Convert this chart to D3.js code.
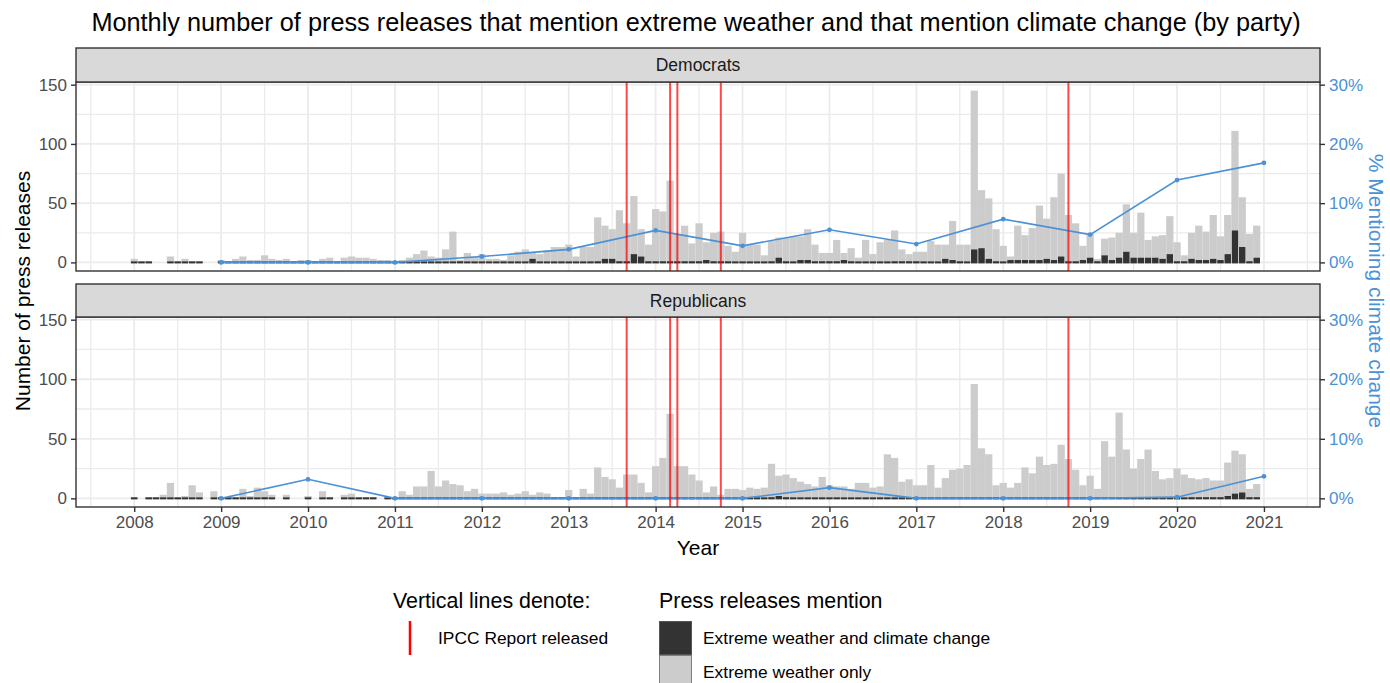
<!DOCTYPE html>
<html>
<head>
<meta charset="utf-8">
<script src="https://cdn.jsdelivr.net/npm/d3@7"></script>
<style>
  body { margin: 0; background: #fff; }
  svg { display: block; font-family: "Liberation Sans", Arial, Helvetica, sans-serif; }
</style>
</head>
<body>
<svg id="chart" width="1390" height="683"></svg>
<script>
// ---- DATA (monthly, starting Jan 2008; null = no releases that month) ----
var firstYear = 2008;

// Democrats: press releases mentioning extreme weather AND climate change
var demClimate = [
  0,0,0,null,null,0,0,0,0,0,null,null,
  0,0,0,0,0,0,0,0,0,0,0,0,
  0,0,0,0,0,0,0,0,0,0,0,0,
  0,0,0,0,0,0,0,0,0,1,0,0,
  0,0,0,0,0,0,0,3,0,0,0,0,
  0,0,0,0,1,3,3,1,1,7,5,1,
  1,1,1,1,1,1,1,2,1,1,1,0,
  0,0,0,0,1,4,1,0,2,2,1,1,
  1,1,2,1,0,0,0,0,0,1,1,1,
  1,0,0,0,3,2,1,0,11,12,3,1,
  0,2,2,2,2,2,3,2,5,1,1,2,
  4,1,6,2,4,9,4,4,4,4,3,7,
  1,1,3,2,2,3,2,7,27,13,1,4
];
// Democrats: extreme weather only
var demWeatherOnly = [
  3,1,1,null,null,5,1,3,1,1,null,null,
  2,1,3,5,2,2,6,3,2,3,1,2,
  2,1,3,4,1,4,5,4,4,3,2,2,
  1,2,4,7,10,5,4,11,26,1,8,5,
  7,3,3,2,6,9,11,5,7,10,13,13,
  15,5,13,13,37,28,25,43,32,49,23,14,
  44,42,68,23,30,15,32,15,24,25,13,9,
  25,15,15,6,17,17,20,22,20,26,14,7,
  7,18,6,11,4,19,7,17,19,26,10,6,
  8,9,18,15,12,33,14,15,134,49,51,27,
  14,3,29,21,27,46,34,53,70,39,32,12,
  20,2,14,19,21,40,21,38,15,18,20,32,
  16,5,22,29,24,37,20,33,84,42,23,27
];

// Republicans
var repClimate = [
  0,null,0,0,0,0,0,0,0,0,null,0,
  0,0,0,0,0,0,1,0,null,0,null,null,
  0,null,0,0,null,0,0,0,0,0,null,0,
  0,0,0,0,0,0,0,0,0,0,0,0,
  0,0,0,0,0,0,0,0,0,0,0,0,
  0,0,0,0,0,0,0,0,0,0,0,0,
  0,0,0,0,0,0,0,0,0,0,0,0,
  0,0,0,0,1,2,1,0,0,0,0,0,
  0,0,0,0,0,0,0,0,0,0,0,0,
  0,0,0,0,0,0,0,0,0,0,0,0,
  0,0,0,0,0,0,0,0,0,0,0,0,
  0,0,0,0,0,0,0,0,0,0,0,0,
  1,0,1,1,1,1,1,2,4,5,1,1
];
var repWeatherOnly = [
  1,null,1,1,3,13,1,2,11,5,null,6,
  1,1,1,8,2,9,5,3,null,3,null,null,
  2,null,6,1,null,3,4,1,1,1,null,1,
  1,6,3,10,10,23,10,15,12,11,6,8,
  4,4,4,5,3,4,6,3,5,4,1,1,
  7,1,8,4,26,18,16,9,20,20,13,5,
  27,34,71,27,27,20,15,5,10,3,8,8,
  7,9,8,9,28,17,19,17,14,12,10,18,
  11,10,10,8,13,13,9,10,37,34,14,16,
  11,11,28,9,17,24,25,28,96,42,37,11,
  13,9,13,26,21,35,28,29,45,33,24,11,
  19,8,48,35,72,41,25,33,41,23,16,17,
  24,20,16,15,16,14,14,28,36,32,7,11
];

// yearly share (%) of extreme weather releases that mention climate change
var pctYears = [2009,2010,2011,2012,2013,2014,2015,2016,2017,2018,2019,2020,2021];
var demPct = [0,0,0,1.0,2.2,5.4,2.8,5.5,3.1,7.3,4.7,13.9,16.8];
var repPct = [0,3.2,0,0,0,0,0,1.8,0,0,0,0.2,3.7];

// IPCC report release months (decimal year)
var ipccDates = [2013 + 8/12, 2014 + 2/12, 2014 + 3/12, 2014 + 9/12, 2018 + 9/12];

var yearTicks = d3.range(2008, 2022);
var countTicks = [0, 50, 100, 150];
var pctTicks = [0, 10, 20, 30];

// ---- LAYOUT ----
var svg = d3.select("#chart");
var panelLeft = 76, panelRight = 1320;
var darkFill = "#333333", lightFill = "#cccccc", blue = "#4b91d6", ipccRed = "red";
var gridCol = "#ebebeb";
var tickSize = "17px", titleSize = "21px";

var panels = [
  {name: "Democrats", climate: demClimate, only: demWeatherOnly, pct: demPct, stripTop: 48, top: 82, bottom: 271},
  {name: "Republicans", climate: repClimate, only: repWeatherOnly, pct: repPct, stripTop: 284, top: 317, bottom: 507}
];

var x = d3.scaleLinear().domain([2007.33, 2021.645]).range([panelLeft, panelRight]);
var monthW = x(firstYear + 1/12) - x(firstYear);

svg.append("text")
  .attr("x", 696).attr("y", 22)
  .attr("text-anchor", "middle").attr("dominant-baseline", "central")
  .style("font-size", "25.3px").style("fill", "#000")
  .text("Monthly number of press releases that mention extreme weather and that mention climate change (by party)");

panels.forEach(function(p, pi) {
  var y = d3.scaleLinear().domain([-7.25, 152.25]).range([p.bottom, p.top]);
  var yPct = d3.scaleLinear().domain([-7.25 / 5, 152.25 / 5]).range([p.bottom, p.top]);
  var g = svg.append("g");

  g.append("rect")
    .attr("x", panelLeft).attr("y", p.top)
    .attr("width", panelRight - panelLeft).attr("height", p.bottom - p.top)
    .attr("fill", "#fff");

  // minor grid
  var minorX = yearTicks.map(function(d) { return d - 0.5; }).concat([2021.5]);
  g.selectAll(".vminor").data(minorX).enter().append("line")
    .attr("x1", function(d) { return x(d); }).attr("x2", function(d) { return x(d); })
    .attr("y1", p.top).attr("y2", p.bottom)
    .attr("stroke", gridCol).attr("stroke-width", 1.3);
  g.selectAll(".hminor").data([25, 75, 125]).enter().append("line")
    .attr("x1", panelLeft).attr("x2", panelRight)
    .attr("y1", function(d) { return y(d); }).attr("y2", function(d) { return y(d); })
    .attr("stroke", gridCol).attr("stroke-width", 1.3);
  // major grid
  g.selectAll(".vmajor").data(yearTicks).enter().append("line")
    .attr("x1", function(d) { return x(d); }).attr("x2", function(d) { return x(d); })
    .attr("y1", p.top).attr("y2", p.bottom)
    .attr("stroke", gridCol).attr("stroke-width", 1.8);
  g.selectAll(".hmajor").data(countTicks).enter().append("line")
    .attr("x1", panelLeft).attr("x2", panelRight)
    .attr("y1", function(d) { return y(d); }).attr("y2", function(d) { return y(d); })
    .attr("stroke", gridCol).attr("stroke-width", 1.8);

  // bars
  var months = p.climate.map(function(v, i) {
    return {t: firstYear + i / 12, dark: v, only: p.only[i]};
  }).filter(function(d) { return d.dark !== null; });

  g.selectAll(".only").data(months).enter().append("rect")
    .attr("x", function(d) { return x(d.t) - monthW / 2; })
    .attr("width", monthW)
    .attr("y", function(d) { return y(d.dark + d.only); })
    .attr("height", function(d) { return y(d.dark) - y(d.dark + d.only); })
    .attr("fill", lightFill);

  g.selectAll(".dark").data(months).enter().append("rect")
    .attr("x", function(d) { return x(d.t) - monthW * 0.45; })
    .attr("width", monthW * 0.9)
    .attr("y", function(d) { return Math.min(y(d.dark), y(0) - 1); })
    .attr("height", function(d) { return y(0) + 1 - Math.min(y(d.dark), y(0) - 1); })
    .attr("fill", darkFill);

  // percent line
  var pts = pctYears.map(function(yr, i) { return {t: yr, v: p.pct[i]}; });
  g.append("path").datum(pts)
    .attr("fill", "none").attr("stroke", blue).attr("stroke-width", 1.6)
    .attr("d", d3.line().x(function(d) { return x(d.t); }).y(function(d) { return yPct(d.v); }));
  g.selectAll(".pt").data(pts).enter().append("circle")
    .attr("cx", function(d) { return x(d.t); }).attr("cy", function(d) { return yPct(d.v); })
    .attr("r", 2.4).attr("fill", blue);

  // IPCC lines
  g.selectAll(".ipcc").data(ipccDates).enter().append("line")
    .attr("x1", function(d) { return x(d); }).attr("x2", function(d) { return x(d); })
    .attr("y1", p.top).attr("y2", p.bottom)
    .attr("stroke", ipccRed).attr("stroke-opacity", 0.72).attr("stroke-width", 2);

  // border
  g.append("rect")
    .attr("x", panelLeft).attr("y", p.top)
    .attr("width", panelRight - panelLeft).attr("height", p.bottom - p.top)
    .attr("fill", "none").attr("stroke", "#333").attr("stroke-width", 1.4);

  // strip
  g.append("rect")
    .attr("x", panelLeft).attr("y", p.stripTop)
    .attr("width", panelRight - panelLeft).attr("height", p.top - p.stripTop)
    .attr("fill", "#d9d9d9").attr("stroke", "#333").attr("stroke-width", 1.4);
  g.append("text")
    .attr("x", (panelLeft + panelRight) / 2).attr("y", (p.stripTop + p.top) / 2)
    .attr("text-anchor", "middle").attr("dominant-baseline", "central")
    .style("font-size", "17.5px").style("fill", "#1a1a1a")
    .text(p.name);

  // axes
  var left = g.append("g").attr("transform", "translate(" + panelLeft + ",0)")
    .call(d3.axisLeft(y).tickValues(countTicks).tickSize(5).tickPadding(4));
  var right = g.append("g").attr("transform", "translate(" + panelRight + ",0)")
    .call(d3.axisRight(yPct).tickValues(pctTicks).tickSize(5).tickPadding(4)
      .tickFormat(function(d) { return d + "%"; }));
  [left, right].forEach(function(a) {
    a.select(".domain").remove();
    a.selectAll("line").attr("stroke", "#333").attr("stroke-width", 1.4);
    a.selectAll("text").style("font-size", tickSize).attr("font-family", null);
  });
  left.selectAll("text").attr("fill", "#4d4d4d");
  right.selectAll("text").attr("fill", blue);

  if (pi === panels.length - 1) {
    var bottom = g.append("g").attr("transform", "translate(0," + p.bottom + ")")
      .call(d3.axisBottom(x).tickValues(yearTicks).tickSize(5).tickPadding(4).tickFormat(d3.format("d")));
    bottom.select(".domain").remove();
    bottom.selectAll("line").attr("stroke", "#333").attr("stroke-width", 1.4);
    bottom.selectAll("text").style("font-size", tickSize).attr("font-family", null).attr("fill", "#4d4d4d");
  }
});

// axis titles
var midY = 291;
svg.append("text")
  .attr("transform", "translate(22," + midY + ") rotate(-90)")
  .attr("text-anchor", "middle").attr("dominant-baseline", "central")
  .style("font-size", titleSize).text("Number of press releases");
svg.append("text")
  .attr("transform", "translate(1376," + midY + ") rotate(90)")
  .attr("text-anchor", "middle").attr("dominant-baseline", "central")
  .style("font-size", titleSize).style("fill", blue).text("% Mentioning climate change");
svg.append("text")
  .attr("x", (panelLeft + panelRight) / 2).attr("y", 547)
  .attr("text-anchor", "middle").attr("dominant-baseline", "central")
  .style("font-size", titleSize).text("Year");

// legends
var lg = svg.append("g");
lg.append("text").attr("x", 393).attr("y", 601).attr("dominant-baseline", "central")
  .style("font-size", "21.4px").text("Vertical lines denote:");
lg.append("line").attr("x1", 410).attr("x2", 410).attr("y1", 621).attr("y2", 655)
  .attr("stroke", ipccRed).attr("stroke-width", 2.5);
lg.append("text").attr("x", 438).attr("y", 638).attr("dominant-baseline", "central")
  .style("font-size", "17.4px").text("IPCC Report released");

var fillLegend = [
  {label: "Extreme weather and climate change", fill: darkFill, stroke: "#555"},
  {label: "Extreme weather only", fill: lightFill, stroke: "#7f7f7f"}
];
lg.append("text").attr("x", 659).attr("y", 601).attr("dominant-baseline", "central")
  .style("font-size", "21.4px").text("Press releases mention");
var items = lg.selectAll(".item").data(fillLegend).enter().append("g")
  .attr("transform", function(d, i) { return "translate(659," + (621 + i * 34) + ")"; });
items.append("rect").attr("x", 0.5).attr("y", 0.5).attr("width", 32).attr("height", 33)
  .attr("fill", function(d) { return d.fill; })
  .attr("stroke", function(d) { return d.stroke; }).attr("stroke-width", 1);
items.append("text").attr("x", 44).attr("y", 17).attr("dominant-baseline", "central")
  .style("font-size", "17.4px").text(function(d) { return d.label; });
</script>
</body>
</html>
